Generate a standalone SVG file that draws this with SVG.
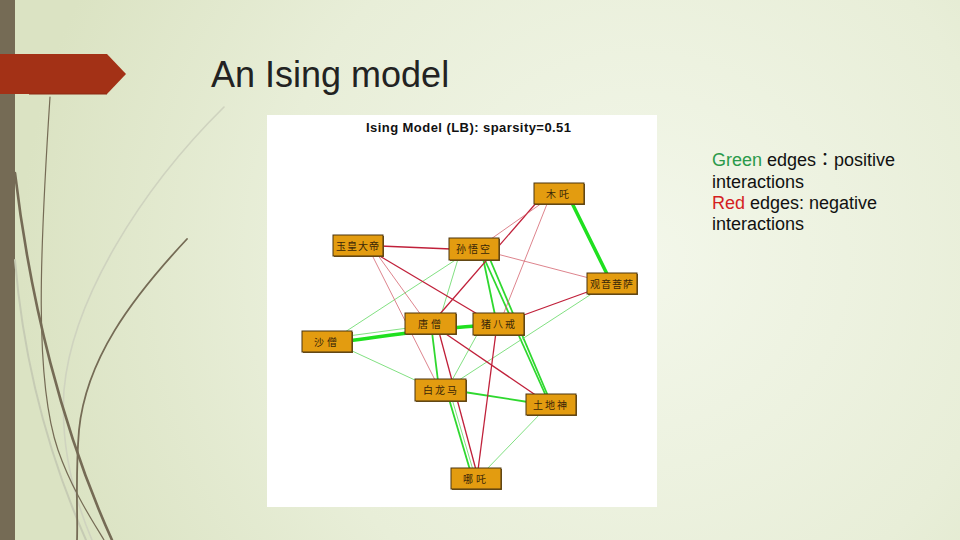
<svg xmlns="http://www.w3.org/2000/svg" width="960" height="540" viewBox="0 0 960 540">
<defs>
<radialGradient id="bg" cx="640" cy="260" r="620" gradientUnits="userSpaceOnUse">
<stop offset="0" stop-color="#f3f7ea"/>
<stop offset="0.6" stop-color="#e8eed8"/>
<stop offset="1" stop-color="#dbe3c3"/>
</radialGradient>
<style>
.gk{stroke:#1fe01f;stroke-width:3.5;fill:none;stroke-linecap:round}
.gm{stroke:#2fd82f;stroke-width:1.8;fill:none}
.gt{stroke:#74dc74;stroke-width:0.9;fill:none}
.rm{stroke:#c0203a;stroke-width:1.3;fill:none}
.rt{stroke:#d46470;stroke-width:0.8;fill:none}
.box{fill:#e39c10;stroke:#4a3510;stroke-width:1}
.sh{fill:#7a5a1a}
.lbl{font-family:"Noto Sans CJK SC","Noto Sans CJK TC",sans-serif;font-size:10px;fill:#3a2608;text-anchor:middle}
.lg{font-family:"Liberation Sans","Noto Sans CJK TC",Arial,sans-serif;font-size:18px;fill:#111}
.deco{fill:none;stroke-linecap:round}
</style>
</defs>
<rect x="0" y="0" width="960" height="540" fill="url(#bg)"/>
<g id="decoration">
<rect x="0" y="0" width="15" height="540" fill="#756b55"/>
<path class="deco" d="M224,107 C140,190 72,300 64,390 C60,450 75,500 92,540" stroke="#cfd3bf" stroke-width="1.6"/>
<path class="deco" d="M15,260 C25,380 55,470 86,540" stroke="#c6cbb4" stroke-width="2"/>
<path class="deco" d="M50,97 C40,250 34,380 58,450 C72,490 92,520 104,540" stroke="#756b55" stroke-width="1.2"/>
<path class="deco" d="M15,173 C30,300 62,430 112,540" stroke="#756b55" stroke-width="2.6"/>
<path class="deco" d="M187,239 C130,300 86,360 79,430 C75,480 78,515 77,540" stroke="#756b55" stroke-width="1.8"/>
<polygon points="0,54 107,54 126,74 107,94 0,94" fill="#a33116"/>
<line x1="29" y1="94" x2="107" y2="94" stroke="#8a2a12" stroke-width="1"/>
</g>
<text x="211" y="87" font-family="Liberation Sans, Arial, sans-serif" font-size="36" fill="#222">An Ising model</text>
<g id="legend">
<text class="lg" x="712" y="166"><tspan fill="#2a9a4a">Green</tspan> edges：positive</text>
<text class="lg" x="712" y="187.5">interactions</text>
<text class="lg" x="712" y="209"><tspan fill="#d41f1f">Red</tspan> edges: negative</text>
<text class="lg" x="712" y="230">interactions</text>
</g>
<rect x="267" y="115" width="390" height="392" fill="#ffffff"/>
<text x="468.5" y="132" font-family="Liberation Sans, Arial, sans-serif" font-size="13" font-weight="bold" text-anchor="middle" textLength="205" fill="#111">Ising Model (LB): sparsity=0.51</text>
<g id="connectors">
<line class="gk" x1="571" y1="201" x2="608" y2="276"/>
<path class="gk" d="M348,341 C380,337 420,330 476,326"/>
<line class="gt" x1="348" y1="336" x2="408" y2="328"/>
<line class="gt" x1="460" y1="257" x2="345" y2="332"/>
<line class="gt" x1="458" y1="259" x2="441" y2="315"/>
<line class="gm" x1="483" y1="258" x2="495" y2="315" stroke-width="1.4"/>
<line class="gm" x1="484" y1="258" x2="546" y2="396" stroke-width="1.3"/>
<line class="gm" x1="489" y1="257" x2="548" y2="396" stroke-width="1.1"/>
<line class="gt" x1="593" y1="293" x2="456" y2="382"/>
<line class="gt" x1="478" y1="333" x2="451" y2="382"/>
<line class="gt" x1="350" y1="350" x2="417" y2="381"/>
<line class="gm" x1="432" y1="332" x2="438" y2="381" stroke-width="2.4"/>
<line class="gm" x1="464" y1="392" x2="528" y2="402" stroke-width="1.8"/>
<line class="gt" x1="541" y1="413" x2="486" y2="470"/>
<line class="gm" x1="449" y1="399" x2="470" y2="470" stroke-width="1.4"/>
<line class="gt" x1="452" y1="399" x2="473" y2="470"/>
<line class="rm" x1="537" y1="202" x2="439" y2="315"/>
<line class="rt" x1="542" y1="203" x2="491" y2="239"/>
<line class="rt" x1="547" y1="204" x2="503" y2="315"/>
<line class="rm" x1="380" y1="246" x2="451" y2="249"/>
<line class="rt" x1="497" y1="254" x2="589" y2="278"/>
<line class="rm" x1="590" y1="291" x2="521" y2="316"/>
<line class="rm" x1="378" y1="255" x2="479" y2="315"/>
<line class="rt" x1="377" y1="254" x2="421" y2="315"/>
<line class="rt" x1="371" y1="253" x2="436" y2="382"/>
<line class="rm" x1="443" y1="332" x2="537" y2="396" stroke-width="1.6"/>
<line class="rm" x1="496" y1="332" x2="478" y2="470" stroke-width="1.1"/>
<line class="rm" x1="439" y1="332" x2="476" y2="470" stroke-width="1.2"/>
</g>
<g id="n-muzha"><rect class="sh" x="535" y="184" width="50" height="21"/><rect class="box" x="534" y="183" width="50" height="21"/><text class="lbl" x="559" y="197.5" letter-spacing="3">木吒</text></g>
<g id="n-yuhuang"><rect class="sh" x="334" y="236" width="50" height="21"/><rect class="box" x="333" y="235" width="50" height="21"/><text class="lbl" x="358" y="249.5" letter-spacing="1">玉皇大帝</text></g>
<g id="n-sunwukong"><rect class="sh" x="450" y="239" width="50" height="22"/><rect class="box" x="449" y="238" width="50" height="22"/><text class="lbl" x="474" y="253" letter-spacing="2">孙悟空</text></g>
<g id="n-guanyin"><rect class="sh" x="588" y="274" width="50" height="21"/><rect class="box" x="587" y="273" width="50" height="21"/><text class="lbl" x="612" y="287.5" letter-spacing="1">观音菩萨</text></g>
<g id="n-tangseng"><rect class="sh" x="406" y="314" width="51" height="21"/><rect class="box" x="405" y="313" width="51" height="21"/><text class="lbl" x="431" y="327.5" letter-spacing="3">唐僧</text></g>
<g id="n-zhubajie"><rect class="sh" x="474" y="314" width="51" height="22"/><rect class="box" x="473" y="313" width="51" height="22"/><text class="lbl" x="499" y="328" letter-spacing="2">猪八戒</text></g>
<g id="n-shaseng"><rect class="sh" x="303" y="332" width="50" height="21"/><rect class="box" x="302" y="331" width="50" height="21"/><text class="lbl" x="327" y="345.5" letter-spacing="3">沙僧</text></g>
<g id="n-bailongma"><rect class="sh" x="416" y="380" width="51" height="22"/><rect class="box" x="415" y="379" width="51" height="22"/><text class="lbl" x="441" y="394" letter-spacing="2">白龙马</text></g>
<g id="n-tudishen"><rect class="sh" x="527" y="395" width="50" height="21"/><rect class="box" x="526" y="394" width="50" height="21"/><text class="lbl" x="551" y="408.5" letter-spacing="2">土地神</text></g>
<g id="n-nezha"><rect class="sh" x="452" y="469" width="50" height="21"/><rect class="box" x="451" y="468" width="50" height="21"/><text class="lbl" x="476" y="482.5" letter-spacing="3">哪吒</text></g>
</svg>
